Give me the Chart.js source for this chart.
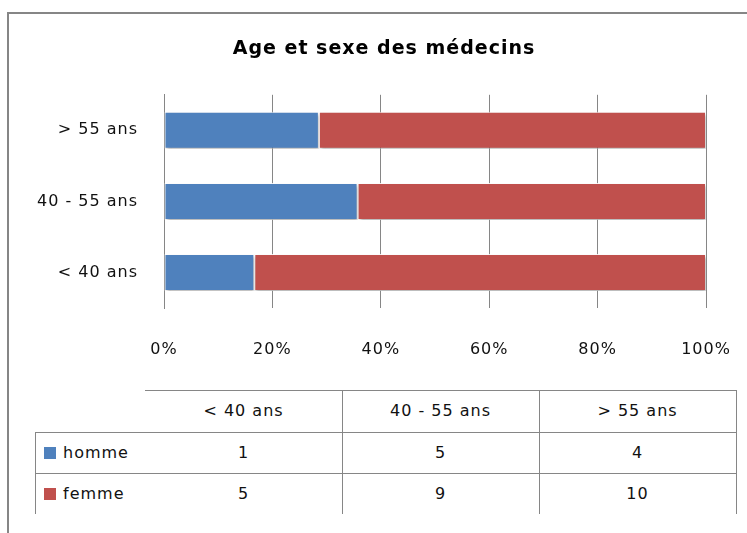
<!DOCTYPE html>
<html><head><meta charset="utf-8">
<script src="https://cdn.jsdelivr.net/npm/chart.js@4.4.1/dist/chart.umd.min.js"></script>
<style>
html,body{margin:0;padding:0;width:747px;height:533px;overflow:hidden;background:#fff;}
#frame{position:absolute;left:7px;top:12px;width:800px;height:600px;border-left:2px solid #868686;border-top:2px solid #868686;}
#wrap{position:absolute;left:0;top:0;width:768px;height:380px;}
.ln{position:absolute;background:#868686;}
.tx{position:absolute;font-family:'DejaVu Sans',sans-serif;font-size:16px;letter-spacing:1px;color:#111;line-height:20px;white-space:nowrap;}
.sq{position:absolute;width:12px;height:12px;}
</style>
</head><body>
<div id="frame"></div>
<div id="wrap"><canvas id="c" width="768" height="380"></canvas></div>
<div id="table"></div>
<script>
const categories = ['< 40 ans', '40 - 55 ans', '> 55 ans'];
const seriesNames = ['homme', 'femme'];
const homme = [1, 5, 4];
const femme = [5, 9, 10];
const seriesColors = ['#4F81BD', '#C0504D'];
const tickValues = [0, 20, 40, 60, 80, 100];

const totals = categories.map((_, i) => homme[i] + femme[i]);
const pct = arr => arr.map((v, i) => v / totals[i] * 100);

const spacing = {
  id: 'spacing',
  beforeLayout(c) { c.ctx.letterSpacing = '1px'; },
  beforeDraw(c) { c.ctx.letterSpacing = '1px'; }
};
// centre the title over the whole frame rather than the padded box
const titleShift = {
  id: 'titleShift',
  afterLayout(c) { const t = c.titleBlock; if (t) { t.left += 62; t.width = t.right - t.left; } }
};
const shadow = {
  id: 'shadow',
  beforeDatasetsDraw(c) {
    const ctx = c.ctx; ctx.save();
    ctx.shadowColor = 'rgba(0,0,0,0.35)';
    ctx.shadowBlur = 3; ctx.shadowOffsetX = 1; ctx.shadowOffsetY = 2;
  },
  afterDatasetsDraw(c) { c.ctx.restore(); }
};

const font = {family: "'DejaVu Sans', sans-serif", size: 16};
new Chart(document.getElementById('c'), {
  type: 'bar',
  data: {
    labels: categories,
    datasets: [
      {label: seriesNames[0], data: pct(homme), backgroundColor: seriesColors[0], borderColor: 'rgba(255,255,255,0.85)', borderWidth: 1, borderSkipped: false},
      {label: seriesNames[1], data: pct(femme), backgroundColor: seriesColors[1], borderColor: 'rgba(255,255,255,0.85)', borderWidth: 1, borderSkipped: false}
    ]
  },
  options: {
    indexAxis: 'y',
    responsive: false,
    animation: false,
    layout: {padding: {left: 0, right: 62, top: 0, bottom: 0}},
    datasets: {bar: {categoryPercentage: 1, barPercentage: 0.52}},
    plugins: {
      legend: {display: false},
      tooltip: {enabled: false},
      title: {display: true, text: 'Age et sexe des médecins', color: '#000',
        font: {family: "'DejaVu Sans', sans-serif", size: 19, weight: 'bold'},
        padding: {top: 38, bottom: 34}}
    },
    scales: {
      x: {
        stacked: true, min: 0, max: 100,
        afterBuildTicks(s) { s.ticks = tickValues.map(v => ({value: v})); },
        afterFit(s) { s.height = 72; },
        ticks: {callback: v => v + '%', color: '#111', font, padding: 32, maxRotation: 0},
        grid: {color: '#868686', lineWidth: 1, drawTicks: false},
        border: {display: false}
      },
      y: {
        stacked: true, reverse: true,
        afterFit(s) { s.width = 164; },
        ticks: {color: '#111', font, padding: 26},
        grid: {display: false, drawTicks: false},
        border: {display: true, color: '#868686', width: 1}
      }
    }
  },
  plugins: [spacing, titleShift, shadow]
});

// data table below the chart
const T = document.getElementById('table');
function line(x, y, w, h) { const d = document.createElement('div'); d.className = 'ln'; Object.assign(d.style, {left: x + 'px', top: y + 'px', width: w + 'px', height: h + 'px'}); T.appendChild(d); }
function text(s, cx, cy, align) {
  const d = document.createElement('div'); d.className = 'tx'; d.textContent = s;
  d.style.top = (cy - 10) + 'px';
  if (align === 'left') d.style.left = cx + 'px';
  else { d.style.left = (cx - 100) + 'px'; d.style.width = '200px'; d.style.textAlign = 'center'; }
  T.appendChild(d);
}
const colX = [145, 342, 539, 736];
const rowY = [390, 432, 473, 514];
line(145, rowY[0], 591, 1);
line(35, rowY[1], 701, 1);
line(35, rowY[2], 701, 1);
line(35, rowY[1], 1, rowY[3] - rowY[1]);
for (let k = 1; k < colX.length; k++) line(colX[k], rowY[0], 1, rowY[3] - rowY[0]);
categories.forEach((c, i) => text(c, (colX[i] + colX[i + 1]) / 2, (rowY[0] + rowY[1]) / 2));
[homme, femme].forEach((arr, r) => {
  const cy = (rowY[r + 1] + rowY[r + 2]) / 2;
  const sq = document.createElement('div'); sq.className = 'sq';
  Object.assign(sq.style, {left: '44px', top: (cy - 6) + 'px', background: seriesColors[r]});
  T.appendChild(sq);
  text(seriesNames[r], 63, cy, 'left');
  arr.forEach((v, i) => text(String(v), (colX[i] + colX[i + 1]) / 2, cy));
});
</script>
</body></html>
